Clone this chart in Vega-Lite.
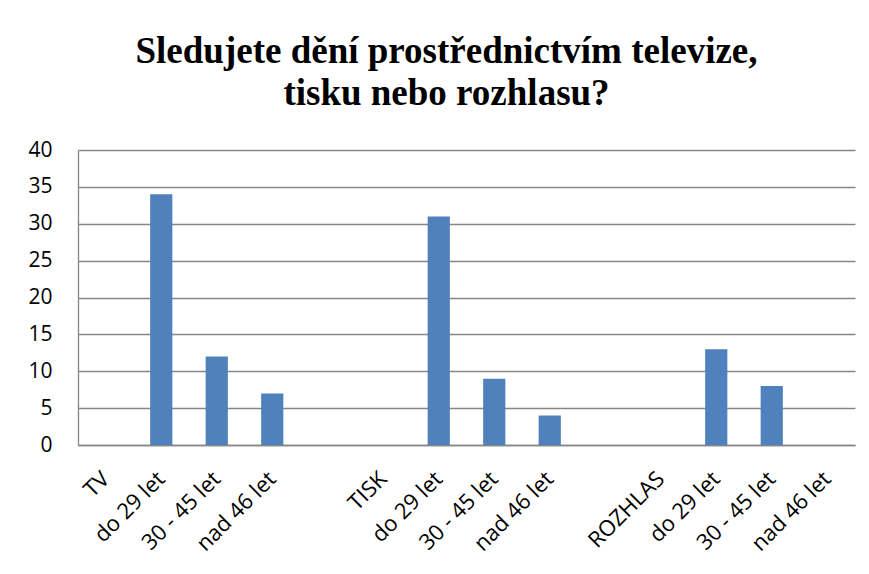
{
  "$schema": "https://vega.github.io/schema/vega-lite/v6.json",
  "width": 777,
  "height": 295,
  "autosize": {"type": "none"},
  "padding": {"left": 78, "top": 150, "right": 14, "bottom": 129},
  "background": "white",
  "title": {
    "text": ["Sledujete dění prostřednictvím televize,", "tisku nebo rozhlasu?"],
    "font": "Liberation Serif",
    "fontSize": 37,
    "fontWeight": "bold",
    "color": "#000000",
    "lineHeight": 42,
    "anchor": "middle",
    "dx": -20,
    "offset": 26
  },
  "data": {
    "values": [
      {"k": "b|do 29 let", "v": 34},
      {"k": "c|30 - 45 let", "v": 12},
      {"k": "d|nad 46 let", "v": 7},
      {"k": "g|do 29 let", "v": 31},
      {"k": "h|30 - 45 let", "v": 9},
      {"k": "i|nad 46 let", "v": 4},
      {"k": "l|do 29 let", "v": 13},
      {"k": "m|30 - 45 let", "v": 8},
      {"k": "n|nad 46 let", "v": 0}
    ]
  },
  "mark": {"type": "bar", "color": "#4F81BD"},
  "encoding": {
    "x": {
      "field": "k",
      "type": "nominal",
      "sort": null,
      "scale": {
        "domain": ["a|TV", "b|do 29 let", "c|30 - 45 let", "d|nad 46 let", "e|", "f|TISK", "g|do 29 let", "h|30 - 45 let", "i|nad 46 let", "j|", "k|ROZHLAS", "l|do 29 let", "m|30 - 45 let", "n|nad 46 let"],
        "paddingInner": 0.6,
        "paddingOuter": 0.3
      },
      "axis": {
        "title": null,
        "labelExpr": "split(datum.value, '|')[1]",
        "labelAngle": -45,
        "labelAlign": "right",
        "labelBaseline": "middle",
        "labelFont": "Open Sans",
        "labelFontSize": 22,
        "labelColor": "#000000",
        "labelPadding": 30,
        "ticks": false,
        "domainColor": "#868686",
        "domainWidth": 1.3,
        "grid": false
      }
    },
    "y": {
      "field": "v",
      "type": "quantitative",
      "scale": {"domain": [0, 40]},
      "axis": {
        "title": null,
        "values": [0, 5, 10, 15, 20, 25, 30, 35, 40],
        "labelFont": "Open Sans",
        "labelFontSize": 21,
        "labelColor": "#000000",
        "labelPadding": 26,
        "ticks": false,
        "domainColor": "#868686",
        "domainWidth": 1.3,
        "gridColor": "#868686",
        "gridWidth": 1.3
      }
    }
  },
  "config": {"view": {"stroke": null}}
}
